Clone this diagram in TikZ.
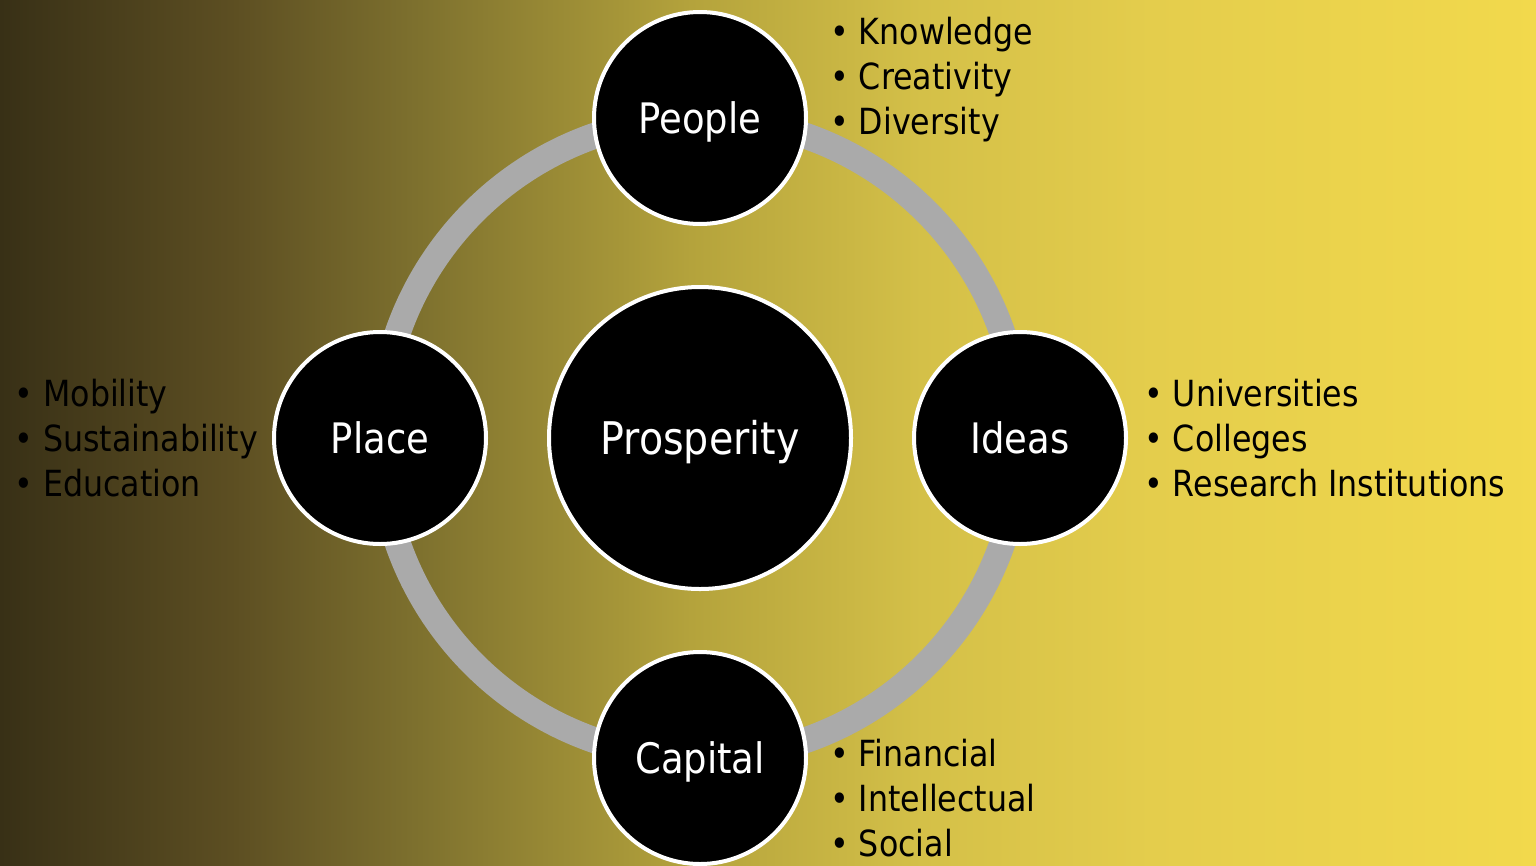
\documentclass[tikz,border=0pt]{standalone}
\usepackage{fontspec}
\setmainfont{DejaVu Sans}[FakeStretch=0.88]
\usetikzlibrary{positioning}

\definecolor{ringgray}{HTML}{AAAAAA}
% stops sit between 25bp and 75bp, the part that covers the path
\pgfdeclarehorizontalshading{bgshade}{100bp}{%
  color(0bp)=({rgb,255:red,56;green,48;blue,22});
  color(25bp)=({rgb,255:red,56;green,48;blue,22});
  color(32.5bp)=({rgb,255:red,92;green,78;blue,34});
  color(38.5bp)=({rgb,255:red,125;green,112;blue,46});
  color(47.5bp)=({rgb,255:red,180;green,163;blue,60});
  color(55bp)=({rgb,255:red,212;green,192;blue,72});
  color(62.5bp)=({rgb,255:red,228;green,205;blue,76});
  color(75bp)=({rgb,255:red,242;green,217;blue,76});
  color(100bp)=({rgb,255:red,242;green,217;blue,76})}

\begin{document}
\begin{tikzpicture}[x=1pt, y=-1pt, node distance = 320pt,
    hub/.style={circle, fill=black, draw=white, line width=4pt, inner sep=0pt,
                minimum size=302pt, text=white, text height=33pt, text depth=0pt,
                font=\fontsize{45}{50}\selectfont},
    spoke/.style={hub, minimum size=212pt, text height=30.5pt,
                font=\fontsize{42}{50}\selectfont},
    bulletlist/.style={align=left, inner sep=0pt, font=\fontsize{36}{45}\selectfont}]
    \shade[shading=bgshade] (0,0) rectangle (1536,865);
    \useasboundingbox (0,0) rectangle (1536,865);

    \coordinate (mid) at (700,438);
    \draw[ringgray, line width=26pt] (mid) circle (320pt);

    \node[hub] (prosperity) at (mid) {Prosperity};
    \node[spoke, above of=prosperity] (people) {People};
    \node[spoke, left of=prosperity] (place) {Place};
    \node[spoke, right of=prosperity] (ideas) {Ideas};
    \node[spoke, below of=prosperity] (capital) {Capital};

    % the lists beside each circle
    \node[bulletlist, anchor=west, xshift=22pt, yshift=38pt] (peoplelist) at (people.east)
        {•~Knowledge\\•~Creativity\\•~Diversity};
    \node[bulletlist, anchor=east, xshift=-14pt] (placelist) at (place.west)
        {•~Mobility\\•~Sustainability\\•~Education};
    \node[bulletlist, anchor=west, xshift=16pt] (ideaslist) at (ideas.east)
        {•~Universities\\•~Colleges\\•~Research Institutions};
    \node[bulletlist, anchor=west, xshift=22pt, yshift=-40pt] (capitallist) at (capital.east)
        {•~Financial\\•~Intellectual\\•~Social};
\end{tikzpicture}
\end{document}
